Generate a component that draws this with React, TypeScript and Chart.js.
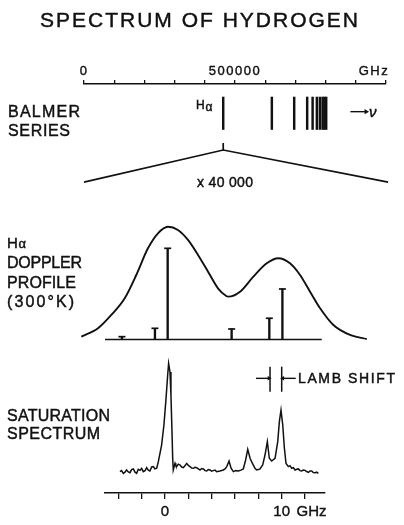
import React, { useEffect, useRef } from "react";
import { Chart, registerables } from "chart.js";
Chart.register(...registerables);

const FONT = "'Liberation Sans', Arial, sans-serif";
const INK = "#111";

// ---------- Balmer series (top panel), frequency in GHz ----------
const FREQ_TICKS = [0, 100000, 200000, 300000, 400000, 500000, 600000, 700000, 800000, 900000, 1000000];
const FREQ_TICK_LABELS = ["0", "", "", "", "", "500000", "", "", "", "", ""];
const FREQ_UNIT = "GHz";
const FREQ_UNIT_AT = 960000;
const BALMER_LINES = [461000, 622000, 696000, 739000, 757000, 771000, 781000, 790000, 796000, 802000];
const H_ALPHA = 461000;

// ---------- H-alpha Doppler profile (GHz offset, relative intensity) ----------
const DOPPLER_GHZ = [-7.17, -5.74, -4.6, -3.45, -2.46, -1.46, -0.6, 0.26, 1.11, 1.97, 2.83, 3.69, 4.54, 5.25, 5.43, 6.43, 7.57, 8.72, 9.71, 10.71, 11.57, 12.43, 13.29, 14.43, 15.86, 17.29];
const DOPPLER_INT = [0.025, 0.099, 0.217, 0.365, 0.571, 0.807, 0.94, 0.998, 0.969, 0.881, 0.748, 0.6, 0.453, 0.385, 0.379, 0.423, 0.556, 0.674, 0.719, 0.674, 0.571, 0.423, 0.276, 0.128, 0.04, 0.004];
const FINE_GHZ = [-3.69, -0.86, 0.23, 5.71, 8.94, 10.06];
const FINE_INT = [0.025, 0.099, 0.807, 0.093, 0.188, 0.447];
const FINE_BASELINE = [-5.14, 13.43];

// ---------- Saturation spectrum ----------
const SAT_GHZ = [
  -3.86, -3.72, -3.57, -3.43, -3.29, -3.14, -3.0, -2.86, -2.71, -2.57, -2.43, -2.29, -2.14, -2.0, -1.86, -1.71, -1.57, -1.43, -1.29, -1.14, -1.0, -0.86, -0.71,
  -0.57, -0.29, -0.09, 0.09, 0.23, 0.31, 0.43, 0.51, 0.6, 0.66, 0.71,
  0.86, 0.93, 1.0, 1.14, 1.29, 1.43, 1.57, 1.71, 1.86, 2.0, 2.14, 2.29, 2.43, 2.57, 2.71, 2.86, 3.0, 3.14, 3.29, 3.43, 3.57, 3.71, 3.86, 4.0, 4.14, 4.29, 4.43, 4.71,
  5.0, 5.14, 5.29, 5.49, 5.66, 5.86, 6.07, 6.29, 6.5, 6.71, 6.91, 7.09, 7.29, 7.43, 7.57, 7.71, 7.86, 8.0, 8.14, 8.37, 8.57, 8.77, 8.94, 9.14, 9.43, 9.66, 9.8, 9.94,
  10.09, 10.23, 10.37, 10.57, 10.71, 10.86, 11.0, 11.14, 11.29, 11.43, 11.57, 11.71, 11.86, 12.0, 12.14, 12.29, 12.43, 12.57, 12.71, 12.86, 13.0, 13.14,
];
const SAT_SIGNAL = [
  0.164, 0.172, 0.151, 0.16, 0.177, 0.162, 0.156, 0.18, 0.185, 0.16, 0.151, 0.182, 0.174, 0.19, 0.164, 0.172, 0.195, 0.176, 0.169, 0.2, 0.203, 0.185, 0.19,
  0.241, 0.369, 0.523, 0.728, 0.908, 0.997, 0.93, 0.754, 0.472, 0.267, 0.177,
  0.228, 0.21, 0.203, 0.222, 0.215, 0.2, 0.195, 0.21, 0.228, 0.212, 0.203, 0.192, 0.19, 0.198, 0.195, 0.185, 0.177, 0.188, 0.185, 0.172, 0.169, 0.18, 0.177, 0.168, 0.172, 0.176, 0.164, 0.17,
  0.177, 0.185, 0.203, 0.246, 0.19, 0.164, 0.172, 0.169, 0.176, 0.185, 0.254, 0.336, 0.267, 0.24, 0.215, 0.19, 0.177, 0.18, 0.185, 0.215, 0.292, 0.395, 0.267, 0.246, 0.267, 0.395, 0.549, 0.638,
  0.523, 0.344, 0.228, 0.203, 0.21, 0.19, 0.195, 0.177, 0.182, 0.185, 0.172, 0.169, 0.176, 0.174, 0.165, 0.159, 0.17, 0.169, 0.158, 0.156, 0.16, 0.151,
];
const GHZ_TICKS = [-4, -2, 0, 2, 4, 6, 8, 10, 12];
const GHZ_TICK_LABELS = ["", "", "0", "", "", "", "", "10", ""];
const GHZ_UNIT = "GHz";
const GHZ_UNIT_AT = 12.55;
const LAMB_SHIFT_GHZ = [9.0, 10.0];

// x range of the lower axis, and the wider window of the Doppler panel
const X_MIN = -5.14;
const X_MAX = 13.71;
const AX_LEFT = 105, AX_RIGHT = 325, B_LEFT = 70, B_RIGHT = 380;
const PX_PER_GHZ = (AX_RIGHT - AX_LEFT) / (X_MAX - X_MIN);
const B_MIN = X_MIN - (AX_LEFT - B_LEFT) / PX_PER_GHZ;
const B_MAX = X_MAX + (B_RIGHT - AX_RIGHT) / PX_PER_GHZ;

// layout constants (decorative geometry)
const BAR_LO = 0.571, BAR_HI = 0.877, STUB_TOP = 0.443, APEX = 0.377, EXP_END = 0.075, ARROW_Y = 0.739;
const NU_ARROW = [882000, 934000];
const LAMB_LO = 0.779, LAMB_HI = 0.972, LAMB_ARROW_Y = 0.882, LAMB_ARROW_LEN = 1.2;

type Txt = { t: string; x: number; y: number; w?: number; size: number; italic?: boolean };
const TEXTS: Txt[] = [
  { t: "SPECTRUM OF HYDROGEN", x: 40, w: 318, y: 26.7, size: 21 },
  { t: "BALMER", x: 8, w: 72, y: 117, size: 16 },
  { t: "SERIES", x: 8, w: 62, y: 136, size: 16 },
  { t: "H", x: 196, y: 109, size: 12 },
  { t: "α", x: 205.5, y: 111, size: 12 },
  { t: "ν", x: 369, y: 116.7, size: 15, italic: true },
  { t: "x 40 000", x: 197, w: 56, y: 186.7, size: 14 },
  { t: "H", x: 7, y: 248.3, size: 15 },
  { t: "α", x: 18.5, y: 248.3, size: 13 },
  { t: "DOPPLER", x: 7, w: 75, y: 268.3, size: 16 },
  { t: "PROFILE", x: 7, w: 69, y: 288, size: 16 },
  { t: "(300°K)", x: 7, w: 67, y: 306.5, size: 16 },
  { t: "SATURATION", x: 7, w: 103, y: 421, size: 16 },
  { t: "SPECTRUM", x: 7, w: 93, y: 439, size: 16 },
  { t: "LAMB SHIFT", x: 298, w: 97, y: 383.3, size: 14 },
];

const textPlugin = {
  id: "texts",
  afterDraw(chart: any) {
    const ctx = chart.ctx as any;
    ctx.save();
    ctx.fillStyle = INK;
    ctx.strokeStyle = INK;
    ctx.lineWidth = 0.45;
    ctx.textAlign = "left";
    ctx.textBaseline = "alphabetic";
    for (const d of TEXTS) {
      ctx.font = `${d.italic ? "italic " : ""}${d.size}px ${FONT}`;
      ctx.letterSpacing = "0px";
      if (d.w) {
        const n = Array.from(d.t).length;
        const nat = ctx.measureText(d.t).width;
        const sp = Math.max(-1, Math.min(4, (d.w - nat) / (n - 1)));
        ctx.letterSpacing = `${sp}px`;
      }
      ctx.fillText(d.t, d.x, d.y);
      ctx.strokeText(d.t, d.x, d.y);
    }
    ctx.letterSpacing = "0px";
    ctx.restore();
  },
};

const spacingPlugin = {
  id: "tickSpacing",
  beforeDraw(chart: any) {
    (chart.ctx as any).letterSpacing = "1.5px";
  },
  afterDraw(chart: any) {
    (chart.ctx as any).letterSpacing = "0px";
  },
};

const baseOpts = (padding: any) => ({
  animation: false,
  responsive: false,
  events: [],
  layout: { padding },
  plugins: { legend: { display: false }, tooltip: { enabled: false }, title: { display: false } },
});

const line = (data: any[], width = 1.5, extra: any = {}) => ({
  type: "line",
  data,
  borderColor: INK,
  borderWidth: width,
  pointRadius: 0,
  fill: false,
  clip: false,
  ...extra,
});

export default function App() {
  const aRef = useRef<HTMLCanvasElement>(null);
  const bRef = useRef<HTMLCanvasElement>(null);
  const cRef = useRef<HTMLCanvasElement>(null);

  useEffect(() => {
    const charts: Chart[] = [];

    // ---- Panel A: Balmer series ----
    const freqTicks = [...FREQ_TICKS, FREQ_UNIT_AT];
    const freqLabel = (v: number) => {
      if (v === FREQ_UNIT_AT) return FREQ_UNIT;
      const i = FREQ_TICKS.indexOf(v);
      return i >= 0 ? FREQ_TICK_LABELS[i] : "";
    };
    charts.push(
      new Chart(aRef.current!, {
        type: "scatter",
        data: {
          datasets: [
            {
              type: "bar",
              data: BALMER_LINES.map((f) => ({ x: f, y: [BAR_LO, BAR_HI] })),
              backgroundColor: INK,
              borderWidth: 0,
              barThickness: 1.8,
              clip: false,
            } as any,
            line([{ x: H_ALPHA, y: STUB_TOP }, { x: H_ALPHA, y: APEX }], 1.7),
            line([{ x: 0, y: EXP_END }, { x: H_ALPHA, y: APEX }, { x: 1007000, y: EXP_END }], 1.7),
            line(
              [{ x: NU_ARROW[0], y: ARROW_Y }, { x: NU_ARROW[1], y: ARROW_Y }],
              1.4,
              { pointRadius: [0, 3], pointStyle: "triangle", rotation: 90, pointBackgroundColor: INK, pointBorderColor: INK, pointBorderWidth: 0 }
            ),
          ] as any,
        },
        options: {
          ...baseOpts({ top: 62, left: 84, right: 18, bottom: 335 }),
          scales: {
            x: {
              type: "linear",
              position: "top",
              min: 0,
              max: 1000000,
              offset: false,
              afterBuildTicks: (s: any) => {
                s.ticks = freqTicks.map((v) => ({ value: v }));
              },
              afterFit: (s: any) => {
                s.height = 22;
              },
              ticks: {
                autoSkip: false,
                maxRotation: 0,
                minRotation: 0,
                padding: 1,
                color: INK,
                textStrokeColor: INK,
                textStrokeWidth: 0.4,
                font: { family: FONT, size: 13 },
                callback: (v: any) => freqLabel(Number(v)),
              },
              grid: {
                drawOnChartArea: false,
                drawTicks: true,
                tickLength: 4,
                offset: false,
                color: INK,
                lineWidth: 1.3,
                tickColor: (c: any) => (c.tick && c.tick.value === FREQ_UNIT_AT ? "rgba(0,0,0,0)" : INK),
              },
              border: { display: true, color: INK, width: 1.6 },
            },
            y: { type: "linear", display: false, min: 0, max: 1 },
          },
        } as any,
        plugins: [spacingPlugin],
      })
    );

    // ---- Panel B: Doppler profile ----
    charts.push(
      new Chart(bRef.current!, {
        type: "scatter",
        data: {
          datasets: [
            line(DOPPLER_GHZ.map((x, i) => ({ x, y: DOPPLER_INT[i] })), 1.9, { tension: 0.4, cubicInterpolationMode: "monotone" }),
            line([{ x: FINE_BASELINE[0], y: 0 }, { x: FINE_BASELINE[1], y: 0 }], 1.6),
            {
              type: "bar",
              data: FINE_GHZ.map((x, i) => ({ x, y: [0, FINE_INT[i]] })),
              backgroundColor: INK,
              borderWidth: 0,
              barThickness: 1.7,
              clip: false,
            } as any,
            {
              type: "scatter",
              data: FINE_GHZ.map((x, i) => ({ x, y: FINE_INT[i] })),
              pointStyle: "line",
              pointRadius: 3.5,
              borderColor: INK,
              borderWidth: 1.7,
              clip: false,
            } as any,
          ] as any,
        },
        options: {
          ...baseOpts({ top: 226.5, left: B_LEFT, right: 404 - B_RIGHT, bottom: 185.5 }),
          scales: {
            x: { type: "linear", display: false, min: B_MIN, max: B_MAX, offset: false },
            y: { type: "linear", display: false, min: 0, max: 1 },
          },
        } as any,
      })
    );

    // ---- Panel C: Saturation spectrum ----
    const ghzTicks = [...GHZ_TICKS, GHZ_UNIT_AT];
    const ghzLabel = (v: number) => {
      if (v === GHZ_UNIT_AT) return GHZ_UNIT;
      const i = GHZ_TICKS.indexOf(v);
      return i >= 0 ? GHZ_TICK_LABELS[i] : "";
    };
    charts.push(
      new Chart(cRef.current!, {
        type: "scatter",
        data: {
          datasets: [
            line(SAT_GHZ.map((x, i) => ({ x, y: SAT_SIGNAL[i] })), 1.5, { tension: 0 }),
            ...LAMB_SHIFT_GHZ.map((g) => line([{ x: g, y: LAMB_LO }, { x: g, y: LAMB_HI }], 1.5)),
            line(
              [{ x: LAMB_SHIFT_GHZ[0] - LAMB_ARROW_LEN, y: LAMB_ARROW_Y }, { x: LAMB_SHIFT_GHZ[0] - 0.09, y: LAMB_ARROW_Y }],
              1.4,
              { pointRadius: [0, 2.6], pointStyle: "triangle", rotation: 90, pointBackgroundColor: INK, pointBorderColor: INK, pointBorderWidth: 0 }
            ),
            line(
              [{ x: LAMB_SHIFT_GHZ[1] + LAMB_ARROW_LEN, y: LAMB_ARROW_Y }, { x: LAMB_SHIFT_GHZ[1] + 0.09, y: LAMB_ARROW_Y }],
              1.4,
              { pointRadius: [0, 2.6], pointStyle: "triangle", rotation: -90, pointBackgroundColor: INK, pointBorderColor: INK, pointBorderWidth: 0 }
            ),
          ] as any,
        },
        options: {
          ...baseOpts({ top: 363, left: AX_LEFT, right: 404 - AX_RIGHT, bottom: 0 }),
          scales: {
            x: {
              type: "linear",
              position: "bottom",
              min: X_MIN,
              max: X_MAX,
              offset: false,
              afterBuildTicks: (s: any) => {
                s.ticks = ghzTicks.map((v) => ({ value: v }));
              },
              afterFit: (s: any) => {
                s.height = 32;
              },
              ticks: {
                autoSkip: false,
                maxRotation: 0,
                minRotation: 0,
                padding: 4,
                color: INK,
                textStrokeColor: INK,
                textStrokeWidth: 0.4,
                font: { family: FONT, size: 15 },
                callback: (v: any) => ghzLabel(Number(v)),
              },
              grid: {
                drawOnChartArea: false,
                drawTicks: true,
                tickLength: 6,
                offset: false,
                color: INK,
                lineWidth: 1.3,
                tickColor: (c: any) => (c.tick && c.tick.value === GHZ_UNIT_AT ? "rgba(0,0,0,0)" : INK),
              },
              border: { display: true, color: INK, width: 1.6 },
            },
            y: { type: "linear", display: false, min: 0, max: 1 },
          },
        } as any,
        plugins: [textPlugin],
      })
    );

    return () => charts.forEach((c) => c.destroy());
  }, []);

  const cs: React.CSSProperties = { position: "absolute", left: 0, top: 0, width: 404, height: 525 };
  return (
    <div style={{ position: "absolute", left: 0, top: 0, width: 404, height: 525, background: "#fff" }}>
      <canvas ref={aRef} width={404} height={525} style={cs} />
      <canvas ref={bRef} width={404} height={525} style={cs} />
      <canvas ref={cRef} width={404} height={525} style={cs} />
    </div>
  );
}
